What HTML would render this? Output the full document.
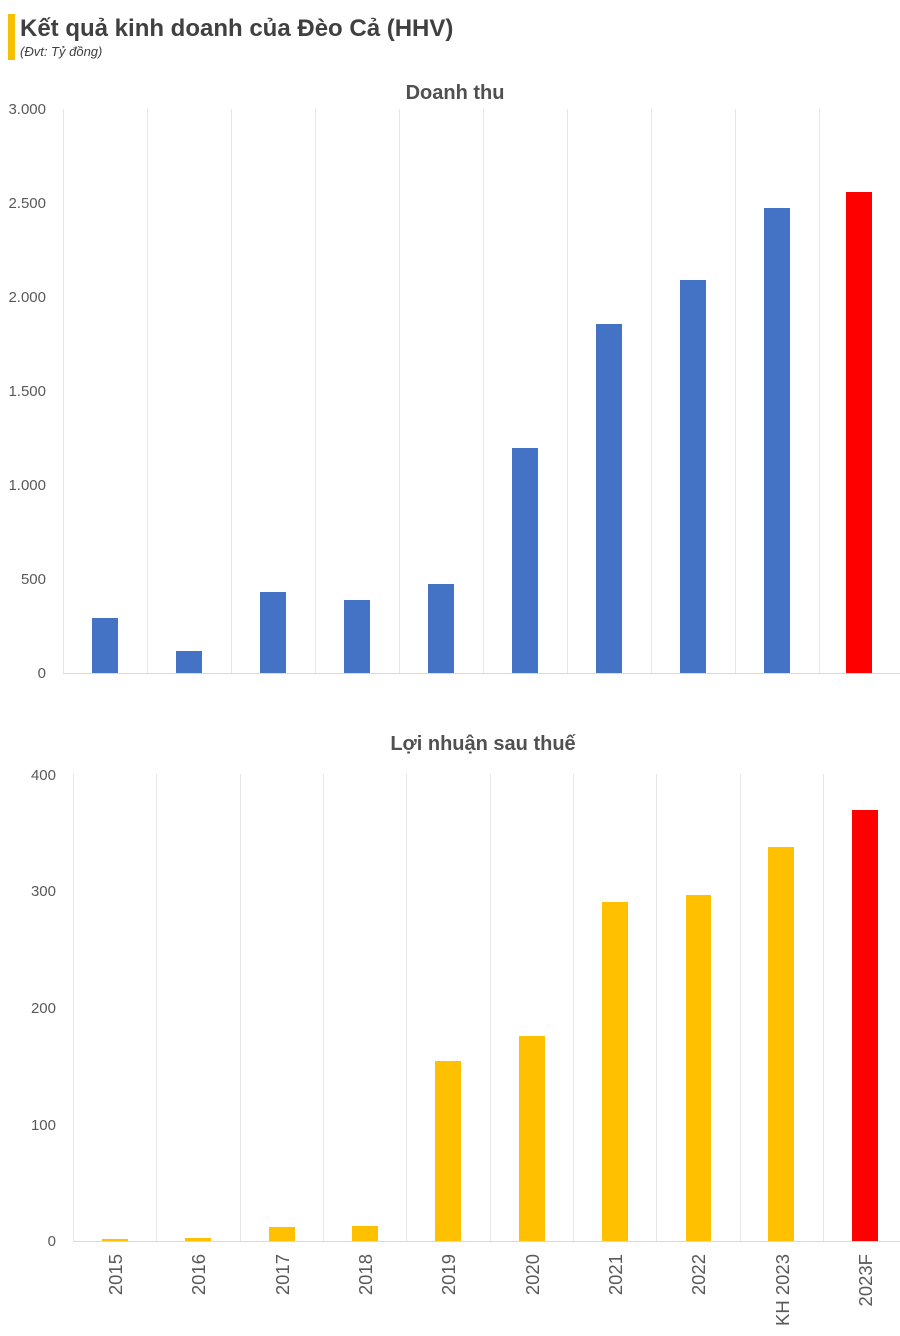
<!DOCTYPE html>
<html><head><meta charset="utf-8"><style>body{margin:0;background:#fff}svg{display:block}</style></head><body>
<svg width="900" height="1336" xmlns="http://www.w3.org/2000/svg" font-family="Liberation Sans, DejaVu Sans, sans-serif">
<rect width="900" height="1336" fill="#fff"/>
<rect x="8" y="14" width="7" height="46" fill="#f5c000"/>
<text x="20" y="36" font-size="24" font-weight="bold" fill="#404040">Kết quả kinh doanh của Đèo Cả (HHV)</text>
<text x="20" y="56" font-size="13" font-style="italic" fill="#404040">(Đvt: Tỷ đồng)</text>
<text x="455" y="99" font-size="20" font-weight="bold" fill="#505050" text-anchor="middle">Doanh thu</text>
<g stroke="#e6e6e6" stroke-width="1">
<line x1="63.5" y1="109" x2="63.5" y2="673"/><line x1="147.5" y1="109" x2="147.5" y2="673"/><line x1="231.5" y1="109" x2="231.5" y2="673"/><line x1="315.5" y1="109" x2="315.5" y2="673"/><line x1="399.5" y1="109" x2="399.5" y2="673"/><line x1="483.5" y1="109" x2="483.5" y2="673"/><line x1="567.5" y1="109" x2="567.5" y2="673"/><line x1="651.5" y1="109" x2="651.5" y2="673"/><line x1="735.5" y1="109" x2="735.5" y2="673"/><line x1="819.5" y1="109" x2="819.5" y2="673"/><line x1="903.5" y1="109" x2="903.5" y2="673"/>
</g>
<line x1="63" y1="673.5" x2="903" y2="673.5" stroke="#d9d9d9"/>
<g font-size="15" fill="#595959" text-anchor="end">
<text x="46" y="114">3.000</text><text x="46" y="208">2.500</text><text x="46" y="302">2.000</text><text x="46" y="396">1.500</text><text x="46" y="490">1.000</text><text x="46" y="584">500</text><text x="46" y="678">0</text>
</g>
<g fill="#4472c4">
<rect x="92" y="618" width="26" height="55"/><rect x="176" y="651" width="26" height="22"/><rect x="260" y="592" width="26" height="81"/><rect x="344" y="600" width="26" height="73"/><rect x="428" y="584" width="26" height="89"/><rect x="512" y="448" width="26" height="225"/><rect x="596" y="324" width="26" height="349"/><rect x="680" y="280" width="26" height="393"/><rect x="764" y="208" width="26" height="465"/>
</g>
<rect x="846" y="192" width="26" height="481" fill="#ff0000"/>
<text x="483" y="750" font-size="20" font-weight="bold" fill="#505050" text-anchor="middle">Lợi nhuận sau thuế</text>
<g stroke="#e6e6e6" stroke-width="1">
<line x1="73.5" y1="774" x2="73.5" y2="1241"/><line x1="156.5" y1="774" x2="156.5" y2="1241"/><line x1="240.5" y1="774" x2="240.5" y2="1241"/><line x1="323.5" y1="774" x2="323.5" y2="1241"/><line x1="406.5" y1="774" x2="406.5" y2="1241"/><line x1="490.5" y1="774" x2="490.5" y2="1241"/><line x1="573.5" y1="774" x2="573.5" y2="1241"/><line x1="656.5" y1="774" x2="656.5" y2="1241"/><line x1="740.5" y1="774" x2="740.5" y2="1241"/><line x1="823.5" y1="774" x2="823.5" y2="1241"/><line x1="906.5" y1="774" x2="906.5" y2="1241"/>
</g>
<line x1="73" y1="1241.5" x2="906" y2="1241.5" stroke="#d9d9d9"/>
<g font-size="15" fill="#595959" text-anchor="end">
<text x="56" y="780">400</text><text x="56" y="896">300</text><text x="56" y="1013">200</text><text x="56" y="1130">100</text><text x="56" y="1246">0</text>
</g>
<g fill="#ffc000">
<rect x="102" y="1239" width="26" height="2"/><rect x="185" y="1238" width="26" height="3"/><rect x="269" y="1227" width="26" height="14"/><rect x="352" y="1226" width="26" height="15"/><rect x="435" y="1061" width="26" height="180"/><rect x="519" y="1036" width="26" height="205"/><rect x="602" y="902" width="26" height="339"/><rect x="686" y="895" width="25" height="346"/><rect x="768" y="847" width="26" height="394"/>
</g>
<rect x="852" y="810" width="26" height="431" fill="#ff0000"/>
<g font-size="18.5" fill="#595959" text-anchor="end">
<text transform="translate(122,1254) rotate(-90)">2015</text>
<text transform="translate(205,1254) rotate(-90)">2016</text>
<text transform="translate(289,1254) rotate(-90)">2017</text>
<text transform="translate(372,1254) rotate(-90)">2018</text>
<text transform="translate(455,1254) rotate(-90)">2019</text>
<text transform="translate(539,1254) rotate(-90)">2020</text>
<text transform="translate(622,1254) rotate(-90)">2021</text>
<text transform="translate(705,1254) rotate(-90)">2022</text>
<text transform="translate(789,1254) rotate(-90)">KH 2023</text>
<text transform="translate(872,1254) rotate(-90)">2023F</text>
</g>
</svg>
</body></html>
